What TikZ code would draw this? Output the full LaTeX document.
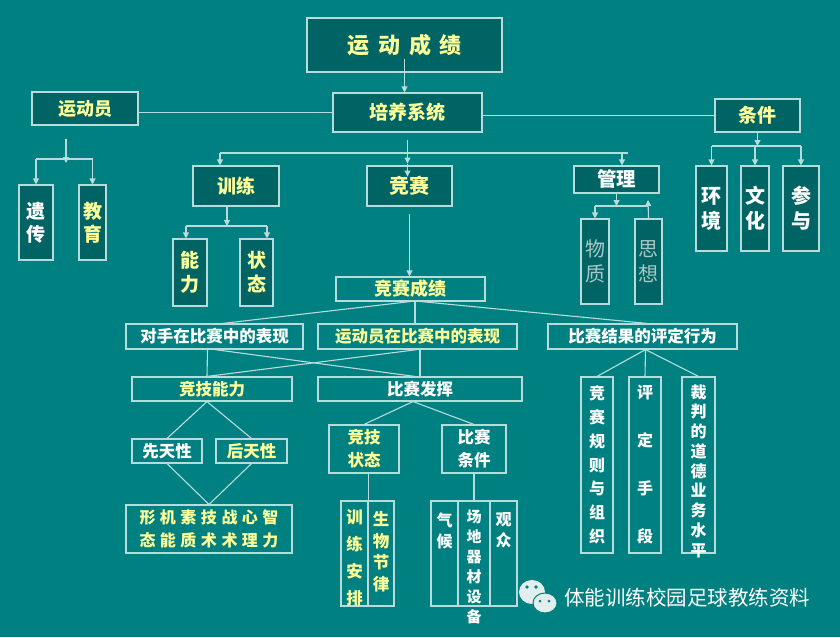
\documentclass[tikz,border=0pt]{standalone}
\usepackage{fontspec}
\newfontfamily\cjk{Noto Sans CJK SC}
\usetikzlibrary{arrows.meta}
\definecolor{sea}{HTML}{008080}
\definecolor{deep}{HTML}{006464}
\definecolor{edge}{HTML}{B8DCDC}
\definecolor{chalk}{HTML}{FFFF99}
\definecolor{fog}{HTML}{A8C8C8}
\definecolor{bubble}{HTML}{E2EEEE}
\newcommand\gp{\hspace{4.5pt}}
\tikzset{tealbox/.style={draw=edge,fill=deep,line width=1.1pt,inner sep=0pt,text=chalk,align=center},
         framebox/.style={draw=edge,line width=1.1pt,inner sep=0pt,text=white,align=center},
         glyph/.style 2 args={font=\cjk\bfseries\fontsize{#1}{#2}\selectfont},
         sized/.style 2 args={minimum width=#1pt,minimum height=#2pt},
         link/.style={draw=edge,line width=1.1pt},
         pointer/.style={link,-{Triangle[width=6pt,length=6pt]}}}

\begin{document}
\begin{tikzpicture}[x=1pt,y=-1pt]
\fill[sea] (0,0) rectangle (840,637);
\useasboundingbox (0,0) rectangle (840,637);
% upper part
\node[tealbox,sized={195}{54},glyph={22}{26}] (score) at (404.5,45) {运\hspace{9pt}动\hspace{9pt}成\hspace{9pt}绩};
\node[tealbox,sized={149}{39},glyph={19}{23}] (system) at (407.5,112.5) {培养系统};
\node[tealbox,sized={106}{33},glyph={18}{22}] (athlete) at (85,108.5) {运动员};
\node[tealbox,sized={85}{33},glyph={19}{23}] (cond) at (757.5,115.5) {条件};
\node[tealbox,sized={34}{75},glyph={19}{23},text=white] (heredity) at (36,222.5) {遗\\传};
\node[tealbox,sized={27}{75},glyph={19}{23}] (educ) at (92.5,222.5) {教\\育};
\node[tealbox,sized={86}{40},glyph={19}{23}] (train) at (236,186) {训练};
\node[tealbox,sized={85}{40},glyph={20}{24}] (match) at (409.5,186) {竞赛};
\node[tealbox,sized={85}{27},glyph={19.5}{23},text=white] (manage) at (616.5,179.5) {管理};
\node[tealbox,sized={34}{67},glyph={19}{24}] (ability) at (190,272.5) {能\\力};
\node[tealbox,sized={33}{67},glyph={19}{24}] (state) at (256.5,272.5) {状\\态};
\node[tealbox,sized={28}{85},font=\cjk\fontsize{20}{25}\selectfont,text=fog] (matter) at (595,261.5) {物\\质};
\node[tealbox,sized={27}{85},font=\cjk\fontsize{20}{25}\selectfont,text=fog] (spirit) at (648.5,261.5) {思\\想};
\node[tealbox,sized={31}{85},glyph={20}{25},text=white] (environ) at (711.5,208.5) {环\\境};
\node[tealbox,sized={28}{85},glyph={20}{25},text=white] (culture) at (755,208.5) {文\\化};
\node[tealbox,sized={36}{85},glyph={20}{25},text=white] (partake) at (801,208.5) {参\\与};
% lower part
\node[framebox,sized={149}{24},glyph={18}{22},text=chalk] (result) at (410.5,289) {竞赛成绩};
\node[framebox,sized={177}{25},glyph={16.5}{20}] (rival) at (214.5,336.5) {对手在比赛中的表现};
\node[framebox,sized={199}{25},glyph={16.5}{20},text=chalk] (self) at (417.5,336.5) {运动员在比赛中的表现};
\node[framebox,sized={189}{25},glyph={16.5}{20}] (judge) at (642.5,336.5) {比赛结果的评定行为};
\node[framebox,sized={160}{24},glyph={16.5}{20},text=chalk] (compete) at (212,389) {竞技能力};
\node[framebox,sized={204}{24},glyph={16.5}{20}] (perform) at (420,389) {比赛发挥};
\node[framebox,sized={70}{24},glyph={16.5}{20}] (innate) at (167,451) {先天性};
\node[framebox,sized={71}{24},glyph={16.5}{20},text=chalk] (acquired) at (251.5,451) {后天性};
\node[framebox,sized={70}{48},glyph={16.5}{23},text=chalk] (form) at (364,449) {竞技\\状态};
\node[framebox,sized={64}{48},glyph={16.5}{23}] (terms) at (474,449) {比赛\\条件};
\node[framebox,sized={166}{48},glyph={16}{23},text=chalk] (traits) at (209,529) {形\gp 机\gp 素\gp 技\gp 战\gp 心\gp 智\\态\gp 能\gp 质\gp 术\gp 术\gp 理\gp 力};
\node[framebox,sized={27}{105},label={[text=chalk,align=center,glyph={16.5}{27},yshift=-4pt]center:训\\练\\安\\排}] (plan) at (354.5,553.5) {};
\node[framebox,sized={26}{105},label={[text=chalk,align=center,glyph={16.5}{21.5},yshift=2pt]center:生\\物\\节\\律}] (rhythm) at (381,553.5) {};
\node[framebox,sized={27}{105},label={[text=white,align=center,glyph={16}{21},yshift=22.5pt]center:气\\候}] (climate) at (444.5,553.5) {};
\node[framebox,sized={32}{105},label={[text=white,align=center,glyph={15}{20},yshift=-13.5pt]center:场\\地\\器\\材\\设\\备}] (venue) at (474,553.5) {};
\node[framebox,sized={27}{105},label={[text=white,align=center,glyph={16}{21},yshift=23.5pt]center:观\\众}] (crowd) at (503.5,553.5) {};
\node[framebox,sized={32}{176},glyph={16}{23.8}] (rules) at (597,465) {竞\\赛\\规\\则\\与\\组\\织};
\node[framebox,sized={32}{176},glyph={16}{48}] (means) at (645,465) {评\\定\\手\\段};
\node[framebox,sized={33}{176},label={[text=white,align=center,glyph={16}{19.75},yshift=-6pt]center:裁\\判\\的\\道\\德\\业\\务\\水\\平}] (referee) at (698.5,465) {};
% connectors above
\draw[pointer] ([yshift=14pt]score.south) -- (score.south |- system.north);
\draw[link] (athlete.east |- system.west) -- (system.west);
\draw[link] (system.east |- cond.west) -- (cond.west);
\coordinate (afork) at (66,159);
\draw[pointer] ([yshift=20pt]afork) -- ([yshift=-4pt]afork);
\draw[link] (afork -| heredity.north) -- (afork -| educ.north);
\draw[pointer] (afork -| heredity.north) -- (heredity.north);
\draw[pointer] (afork -| educ.north) -- (educ.north);
\coordinate (sleft) at (220,153);
\coordinate (sright) at (628,153);
\coordinate (sdrop) at (622,153);
\draw[link] (sleft) -- (sright);
\draw[pointer] ([yshift=-7pt]system.south) -- ([yshift=-31pt]system.south);
\draw[pointer] ([yshift=-31pt]system.south) -- ([yshift=-44pt]system.south);
\draw[pointer] (sleft) -- (sleft |- train.north);
\draw[pointer] (sdrop) -- (sdrop |- manage.north);
\coordinate (tleft) at (186,226);
\coordinate (tmid) at (227,226);
\coordinate (tright) at (267,226);
\draw[pointer] (tmid |- train.south) -- (tmid);
\draw[link] (tleft) -- (tright);
\draw[pointer] (tleft) -- (tleft |- ability.north);
\draw[pointer] (tright) -- (tright |- state.north);
\draw[pointer] ([yshift=-7pt]match.south) -- (match.south |- result.north);
\coordinate (mleft) at (595,206);
\coordinate (mright) at (648,206);
\draw[pointer] (manage.south) -- (manage.south |- mleft);
\draw[link] (mleft) -- (mright);
\draw[pointer] (mleft) -- (matter.north);
\draw[pointer] (spirit.north) -- ([yshift=6pt]mright);
\coordinate (cfork) at (757.5,146);
\draw[pointer] (cond.south) -- (cfork);
\draw[link] (cfork -| environ.north) -- (cfork -| partake.north);
\draw[pointer] (cfork -| environ.north) -- (environ.north);
\draw[pointer] (cfork -| culture.north) -- (culture.north);
\draw[pointer] (cfork -| partake.north) -- (partake.north);
% connectors below
\coordinate (rhub) at (415,301);
\draw[link] (rhub) -- ([xshift=8pt]rival.north);
\draw[link] (rhub) -- (rhub |- self.north);
\draw[link] (rhub) -- ([xshift=5pt]judge.north);
\draw[link] ([xshift=-7pt]rival.south) -- ([xshift=-5pt]compete.north);
\draw[link] (rival.south) -- ([xshift=-5pt]perform.north);
\draw[link] (self.south) -- ([xshift=-5pt]compete.north);
\draw[link] (perform.north) -- (perform.north |- self.south);
\draw[link] ([xshift=-5pt]compete.south) -- (innate.north);
\draw[link] ([xshift=-5pt]compete.south) -- (acquired.north);
\draw[link] (innate.south) -- (traits.north);
\draw[link] (acquired.south) -- (traits.north);
\draw[link] ([xshift=-7pt]perform.south) -- (form.north);
\draw[link] ([xshift=-7pt]perform.south) -- (terms.north);
\draw[link] (plan.north east |- form.south) -- (plan.north east);
\draw[link] (terms.south) -- (venue.north);
\draw[link] ([xshift=3pt]judge.south) -- (rules.north);
\draw[link] ([xshift=3pt]judge.south) -- (means.north);
\draw[link] ([xshift=3pt]judge.south) -- (referee.north);
% watermark
\fill[bubble] (532,592) ellipse [x radius=13pt,y radius=12pt];
\fill[sea] (527,587) circle [radius=1.8pt] (536,587) circle [radius=1.8pt];
\fill[bubble,draw=sea,line width=1pt] (545,603) ellipse [x radius=12pt,y radius=10pt];
\fill[sea] (540,601) circle [radius=1.5pt] (549,601) circle [radius=1.5pt];
\node[font=\cjk\fontsize{20.5}{24}\selectfont,text=white] (brand) at (687,598) {体能训练校园足球教练资料};
\end{tikzpicture}
\end{document}
